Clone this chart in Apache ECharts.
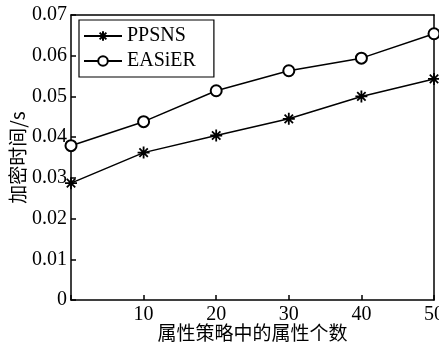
<!DOCTYPE html>
<html>
<head>
<meta charset="utf-8">
<script src="https://cdn.jsdelivr.net/npm/echarts@6/dist/echarts.min.js"></script>
<style>
  html, body { margin: 0; padding: 0; background: #fff; }
  #main { width: 439px; height: 346px; }
</style>
</head>
<body>
<div id="main"></div>
<script>
// attribute count in the policy
const xValues = [0, 10, 20, 30, 40, 50];
const ppsns = [0.0287, 0.0362, 0.0404, 0.0445, 0.0500, 0.0543];
const easier = [0.0379, 0.0438, 0.0514, 0.0563, 0.0594, 0.0654];

const serif = '"Liberation Serif", "DejaVu Serif", serif';
const cjk = '"Noto Sans CJK SC", sans-serif';
const asterisk = 'path://M0,-10L0,10M-10,0L10,0M-7,-7L7,7M-7,7L7,-7';

const frame = { show: true, onZero: false, lineStyle: { color: '#000', width: 1.5 } };

let myChart = echarts.init(document.getElementById('main'));
myChart.setOption({
  animation: false,
  grid: { left: 71, right: 5, top: 15, bottom: 46, outerBoundsMode: 'none', containLabel: false },
  legend: {
    left: 79, top: 20,
    orient: 'vertical',
    padding: [6, 18, 6, 4],
    itemGap: 5,
    itemWidth: 38,
    itemHeight: 12,
    borderColor: '#000',
    borderWidth: 1.2,
    textStyle: { fontFamily: serif, fontSize: 20, color: '#000' },
    data: ['PPSNS', 'EASiER']
  },
  xAxis: [{
    type: 'value',
    min: 0, max: 50, interval: 10,
    name: '属性策略中的属性个数',
    nameLocation: 'middle',
    nameGap: 23,
    nameMoveOverlap: false,
    nameTextStyle: { fontFamily: cjk, fontSize: 19, color: '#000' },
    axisLine: { lineStyle: { color: '#000', width: 1.5 } },
    axisTick: { inside: true, length: 5, lineStyle: { color: '#000', width: 1.5 } },
    axisLabel: {
      fontFamily: serif, fontSize: 20, color: '#000', margin: 5,
      formatter: v => (v === 0 ? '' : String(v))
    },
    splitLine: { show: false }
  }, {
    type: 'value', position: 'top', min: 0, max: 50,
    axisLine: frame, axisTick: { show: false }, axisLabel: { show: false }, splitLine: { show: false }
  }],
  yAxis: [{
    type: 'value',
    min: 0, max: 0.07, interval: 0.01,
    name: '加密时间/s',
    nameLocation: 'middle',
    nameGap: 44,
    nameMoveOverlap: false,
    nameTextStyle: { fontFamily: cjk, fontSize: 19, color: '#000' },
    axisLine: { lineStyle: { color: '#000', width: 1.5 } },
    axisTick: { inside: true, length: 5, lineStyle: { color: '#000', width: 1.5 } },
    axisLabel: {
      fontFamily: serif, fontSize: 20, color: '#000', margin: 4,
      formatter: v => (v === 0 ? '0' : v.toFixed(2))
    },
    splitLine: { show: false }
  }, {
    type: 'value', position: 'right', min: 0, max: 0.07,
    axisLine: frame, axisTick: { show: false }, axisLabel: { show: false }, splitLine: { show: false }
  }],
  series: [
    {
      name: 'PPSNS',
      type: 'line',
      data: xValues.map((x, i) => [x, ppsns[i]]),
      symbol: asterisk,
      symbolSize: 12,
      itemStyle: { color: '#000', borderColor: '#000', borderWidth: 1.8 },
      lineStyle: { color: '#000', width: 1.5 }
    },
    {
      name: 'EASiER',
      type: 'line',
      data: xValues.map((x, i) => [x, easier[i]]),
      symbol: 'emptyCircle',
      symbolSize: 11,
      itemStyle: { color: '#000', borderColor: '#000', borderWidth: 1.3 },
      lineStyle: { color: '#000', width: 1.5 }
    }
  ]
});
</script>
</body>
</html>
